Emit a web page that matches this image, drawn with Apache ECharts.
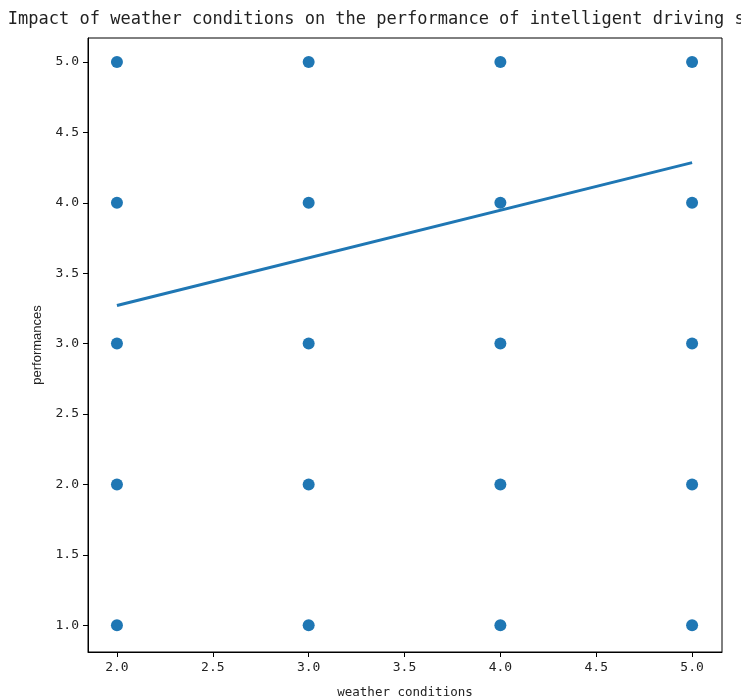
<!DOCTYPE html>
<html>
<head>
<meta charset="utf-8">
<script src="https://cdn.jsdelivr.net/npm/echarts@6/dist/echarts.min.js"></script>
<style>
  html, body { margin: 0; padding: 0; background: #fff; }
  #chart { width: 741px; height: 700px; }
</style>
</head>
<body>
<div id="chart"></div>
<script>
// weather condition score (x) vs performance score (y)
const weather = [2, 2, 2, 2, 2, 3, 3, 3, 3, 3, 4, 4, 4, 4, 4, 5, 5, 5, 5, 5];
const performance = [1, 2, 3, 4, 5, 1, 2, 3, 4, 5, 1, 2, 3, 4, 5, 1, 2, 3, 4, 5];

// fitted regression line
const fitX = [2, 5];
const fitY = [3.27, 4.285];

const xTicks = [2.0, 2.5, 3.0, 3.5, 4.0, 4.5, 5.0];
const yTicks = [1.0, 1.5, 2.0, 2.5, 3.0, 3.5, 4.0, 4.5, 5.0];

const blue = '#1f77b4';
const textColor = '#222';
const mono = '"DejaVu Sans Mono", monospace';

const chart = echarts.init(document.getElementById('chart'));

const axisCommon = {
  type: 'value',
  axisLine: { show: true, lineStyle: { color: '#000', width: 1 } },
  splitLine: { show: false }
};

const option = {
  animation: false,
  title: {
    text: 'Impact of weather conditions on the performance of intelligent driving systems',
    left: 402,
    top: 6,
    textAlign: 'center',
    textStyle: { fontFamily: mono, fontSize: 17, fontWeight: 'normal', color: textColor }
  },
  grid: {
    left: 88, right: 19, top: 38, bottom: 48,
    outerBoundsMode: 'none',
    containLabel: false,
    show: true,
    borderColor: '#000',
    borderWidth: 1
  },
  xAxis: {
    ...axisCommon,
    min: 1.849,
    max: 5.156,
    name: 'weather conditions',
    nameLocation: 'middle',
    nameGap: 34,
    nameTextStyle: { fontFamily: mono, fontSize: 12.5, color: textColor },
    axisTick: { show: true, length: 5, customValues: xTicks, lineStyle: { color: '#000' } },
    axisLabel: {
      customValues: xTicks,
      formatter: v => v.toFixed(1),
      fontFamily: mono, fontSize: 13, color: textColor, margin: 9
    }
  },
  yAxis: {
    ...axisCommon,
    min: 0.81,
    max: 5.17,
    name: 'performances',
    nameLocation: 'middle',
    nameGap: 44,
    nameRotate: 90,
    nameTextStyle: { fontFamily: '"Liberation Sans", Arial, sans-serif', fontSize: 13, color: textColor },
    axisTick: { show: true, length: 5, customValues: yTicks, lineStyle: { color: '#000' } },
    axisLabel: {
      customValues: yTicks,
      formatter: v => v.toFixed(1),
      fontFamily: mono, fontSize: 13, color: textColor, margin: 9
    }
  },
  series: [
    {
      type: 'scatter',
      data: weather.map((x, i) => [x, performance[i]]),
      symbolSize: 12,
      itemStyle: { color: blue, opacity: 1 },
      z: 2
    },
    {
      type: 'line',
      data: fitX.map((x, i) => [x, fitY[i]]),
      showSymbol: false,
      lineStyle: { color: blue, width: 3 },
      z: 3
    }
  ]
};

chart.setOption(option);
</script>
</body>
</html>
